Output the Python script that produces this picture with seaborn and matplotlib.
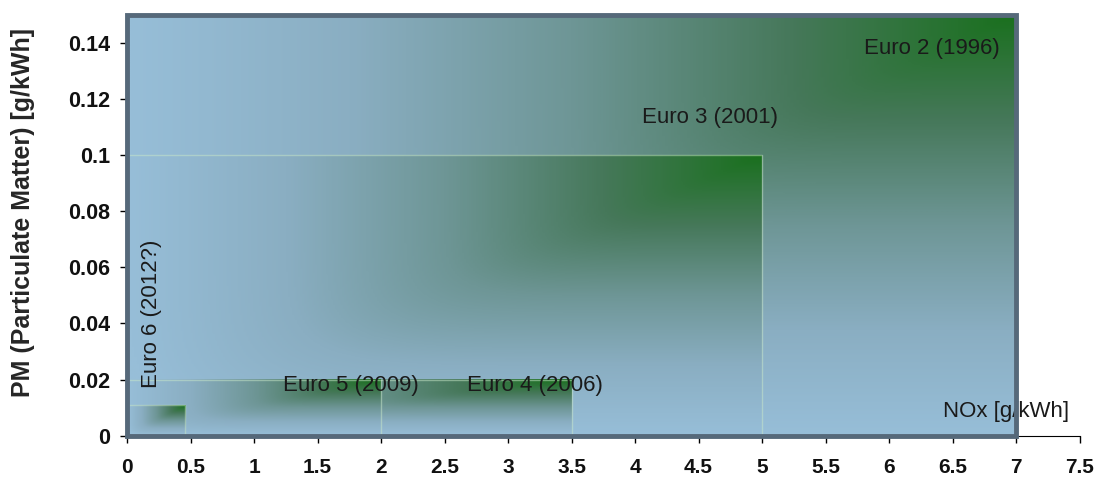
import numpy as np
import matplotlib
matplotlib.use("Agg")
import matplotlib.pyplot as plt
import seaborn as sns
from matplotlib.patches import Rectangle

# emission stages: NOx limit (x) and PM limit (y), drawn largest first
stages = ["Euro 2 (1996)", "Euro 3 (2001)", "Euro 4 (2006)", "Euro 5 (2009)", "Euro 6 (2012?)"]
nox_limit = [7.0, 5.0, 3.5, 2.0, 0.46]
pm_limit = [0.15, 0.10, 0.02, 0.02, 0.011]

# label anchor positions
label_x = [6.87, 4.59, 3.21, 1.76, 0.19]
label_y = [0.1378, 0.1135, 0.0178, 0.0178, 0.0436]

x_ticks = np.arange(0, 7.51, 0.5)
x_ticklabels = ["0", "0.5", "1", "1.5", "2", "2.5", "3", "3.5", "4", "4.5", "5", "5.5", "6", "6.5", "7", "7.5"]
y_ticks = np.arange(0, 0.141, 0.02)
y_ticklabels = ["0", "0.02", "0.04", "0.06", "0.08", "0.1", "0.12", "0.14"]

sns.set_style("ticks")
plt.rcParams["font.family"] = ["Liberation Sans", "DejaVu Sans"]

# blue -> teal grey -> dark green, like the Excel corner gradient
grad = sns.blend_palette(["#97bed8", "#8aaec2", "#6e9696", "#46785a", "#1a701e"], as_cmap=True)

fig = plt.figure(figsize=(11.02, 4.83), dpi=100)
ax = fig.add_axes([127 / 1102, 1 - 435.8 / 483, (1079.5 - 127) / 1102, (435.8 - 14.6) / 483])

n = 300
u = np.linspace(0, 1, n)[None, :]
v = np.linspace(0, 1, n)[:, None]
# "from corner" gradient (slightly softened), green at the top right corner
p = 8.0
corner = np.clip(1 - ((1 - u) ** p + (1 - v) ** p) ** (1 / p), 0, 1)
for i, (xr, yt) in enumerate(zip(nox_limit, pm_limit)):
    ax.imshow(grad(corner), extent=[0, xr, 0, yt], origin="lower", aspect="auto",
              interpolation="bilinear", zorder=1 + i)
    if i > 0:
        ax.plot([0, xr, xr], [yt, yt, 0], color="#c9e8c9", lw=1, alpha=0.5, zorder=1.5 + i)

ax.text(6.92, 0.0088, "NOx [g/kWh]", fontsize=16, color="#1a1a1a",
        ha="center", va="center", zorder=8)

# outer frame around the Euro 2 area
ax.add_patch(Rectangle((0, 0), nox_limit[0], pm_limit[0], fill=False,
                       edgecolor="#56697a", lw=3.5, zorder=10, clip_on=False))

for i, name in enumerate(stages):
    if i == 0:
        ax.text(label_x[i], label_y[i], name, fontsize=16, color="#1a1a1a",
                ha="right", va="center", zorder=12)
    elif i == 4:
        ax.text(label_x[i], label_y[i], name, fontsize=16, color="#1a1a1a",
                ha="center", va="center", rotation=90, zorder=12)
    else:
        ax.text(label_x[i], label_y[i], name, fontsize=16, color="#1a1a1a",
                ha="center", va="center", zorder=12)

ax.set_xlim(0, 7.5)
ax.set_ylim(0, 0.15)
ax.set_xticks(x_ticks)
ax.set_xticklabels(x_ticklabels, fontsize=15, fontweight="bold", color="#111111")
ax.set_yticks(y_ticks)
ax.set_yticklabels(y_ticklabels, fontsize=15.5, fontweight="bold", color="#111111")
ax.tick_params(axis="both", direction="out", length=5, width=1, color="black")
ax.tick_params(axis="x", pad=11)
ax.tick_params(axis="y", pad=7)
sns.despine(ax=ax)
ax.spines["left"].set_color("black")
ax.spines["bottom"].set_color("black")
ax.set_ylabel("PM (Particulate Matter) [g/kWh]", fontsize=18, fontweight="bold")
ax.yaxis.set_label_coords(-0.097, 0.529)

fig.savefig("out.png", dpi=100)
